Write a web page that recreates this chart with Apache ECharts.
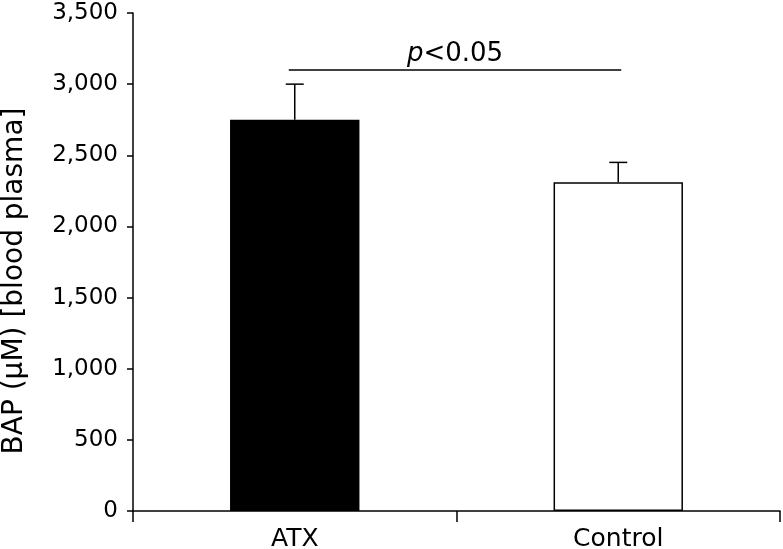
<!DOCTYPE html>
<html>
<head>
<meta charset="utf-8">
<script src="https://cdn.jsdelivr.net/npm/echarts@6/dist/echarts.min.js"></script>
<style>html,body{margin:0;padding:0;background:#fff}#c{width:783px;height:549px}</style>
</head>
<body>
<div id="c"></div>
<script>
var categories = ['ATX', 'Control'];
var means = [2750, 2310];
var errors = [250, 140];
var yTicks = [0, 500, 1000, 1500, 2000, 2500, 3000, 3500];
var sigPair = ['ATX', 'Control'];
var sigLevel = 3100;
var yName = 'BAP (µM) [blood plasma]';

var FONT = 'DejaVu Sans';
var chart = echarts.init(document.getElementById('c'), null, {renderer: 'canvas'});

var barData = means.map(function (v, i) {
  return {
    value: v,
    itemStyle: i === 0
      ? {color: '#000', borderColor: '#000', borderWidth: 1.5}
      : {color: '#fff', borderColor: '#000', borderWidth: 1.5}
  };
});
var errData = means.map(function (v, i) { return [i, v, v + errors[i]]; });
var sigData = [[categories.indexOf(sigPair[0]), sigLevel, categories.indexOf(sigPair[1])]];

var option = {
  animation: false,
  backgroundColor: '#fff',
  grid: {left: 133, right: 3, top: 13, bottom: 38, containLabel: false, outerBoundsMode: 'none'},
  xAxis: {
    type: 'category',
    data: categories,
    boundaryGap: true,
    axisLine: {lineStyle: {color: '#000', width: 1.5}},
    axisTick: {show: true, length: 11, alignWithLabel: false, lineStyle: {color: '#000', width: 1.5}},
    axisLabel: {color: '#000', fontFamily: FONT, fontSize: 25, margin: 16}
  },
  yAxis: {
    type: 'value',
    min: yTicks[0],
    max: yTicks[yTicks.length - 1],
    interval: yTicks[1] - yTicks[0],
    axisLine: {show: true, lineStyle: {color: '#000', width: 1.5}},
    axisTick: {show: true, length: 6, lineStyle: {color: '#000', width: 1.5}},
    splitLine: {show: false},
    axisLabel: {
      color: '#000', fontFamily: FONT, fontSize: 23, margin: 15,
      formatter: function (v) { return v.toLocaleString('en-US'); }
    }
  },
  graphic: [{
    type: 'text',
    x: 15, y: 281,
    rotation: Math.PI / 2,
    style: {
      text: yName, fill: '#000', font: '28px "' + FONT + '"',
      align: 'center', verticalAlign: 'middle'
    }
  }],
  series: [
    {
      type: 'bar',
      data: barData,
      barWidth: '40%'
    },
    {
      type: 'custom',
      data: errData,
      encode: {x: 0, y: [1, 2]},
      z: 3,
      renderItem: function (params, api) {
        var x = api.value(0);
        var base = api.coord([x, api.value(1)]);
        var top = api.coord([x, api.value(2)]);
        var half = 9;
        var st = {stroke: '#000', lineWidth: 1.5};
        return {
          type: 'group',
          children: [
            {type: 'line', shape: {x1: base[0], y1: base[1], x2: top[0], y2: top[1]}, style: st},
            {type: 'line', shape: {x1: top[0] - half, y1: top[1], x2: top[0] + half, y2: top[1]}, style: st}
          ]
        };
      }
    },
    {
      type: 'custom',
      data: sigData,
      encode: {x: [0, 2], y: 1},
      z: 3,
      renderItem: function (params, api) {
        var a = api.coord([api.value(0), api.value(1)]);
        var b = api.coord([api.value(2), api.value(1)]);
        var x1 = a[0] - 6, x2 = b[0] + 3;
        return {
          type: 'group',
          children: [
            {type: 'line', shape: {x1: x1, y1: a[1], x2: x2, y2: a[1]}, style: {stroke: '#000', lineWidth: 1.5}},
            {
              type: 'text',
              x: (x1 + x2) / 2, y: a[1] - 3,
              style: {
                text: '{i|p}{n|<0.05}',
                align: 'center', verticalAlign: 'bottom',
                rich: {
                  i: {fontFamily: FONT, fontSize: 26, fontStyle: 'italic', fill: '#000'},
                  n: {fontFamily: FONT, fontSize: 26, fill: '#000'}
                }
              }
            }
          ]
        };
      }
    }
  ]
};
chart.setOption(option);
</script>
</body>
</html>
